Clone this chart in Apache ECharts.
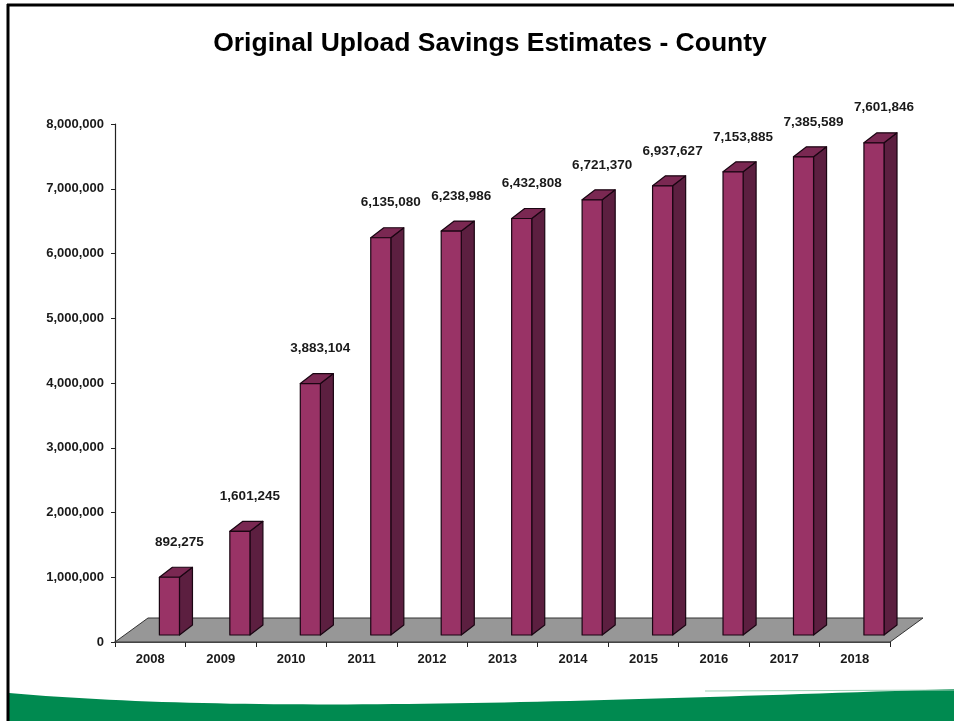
<!DOCTYPE html>
<html>
<head>
<meta charset="utf-8">
<script src="https://cdn.jsdelivr.net/npm/echarts@6/dist/echarts.min.js"></script>
<style>
  html, body { margin: 0; padding: 0; background: #ffffff; }
  #chart { width: 954px; height: 721px; }
</style>
</head>
<body>
<div id="chart"></div>
<script>
// Yearly savings estimates, county level
const years = ['2008', '2009', '2010', '2011', '2012', '2013', '2014', '2015', '2016', '2017', '2018'];
const savings = [892275, 1601245, 3883104, 6135080, 6238986, 6432808, 6721370, 6937627, 7153885, 7385589, 7601846];
const axisMin = 0;
const axisMax = 8000000;
const axisStep = 1000000;

const FONT = '"Liberation Sans", Arial, sans-serif';
const INK = '#1a1a1a';

// 3D bar look
const FACE = '#993366';
const SIDE = '#5c1f40';
const TOP = '#7a2852';
const EDGE = '#1a0512';
const DEPTH_X = 13, DEPTH_Y = 10;   // extrusion of each bar
const LIFT = 7;                     // bars stand slightly back on the floor
const FLOOR_X = 33, FLOOR_Y = 24;   // floor depth

const fmt = v => Number(v).toLocaleString('en-US');

// Outline of the green swoosh at the bottom of the slide (cubic curve sampled into a polygon)
function swooshPoints() {
  const p0 = [9, 693], p1 = [250, 714], p2 = [560, 702], p3 = [954, 689];
  const pts = [];
  for (let k = 0; k <= 60; k++) {
    const t = k / 60, u = 1 - t;
    const a = u * u * u, b = 3 * u * u * t, c = 3 * u * t * t, d = t * t * t;
    pts.push([a * p0[0] + b * p1[0] + c * p2[0] + d * p3[0], a * p0[1] + b * p1[1] + c * p2[1] + d * p3[1]]);
  }
  pts.push([954, 721], [9, 721]);
  return pts;
}

const chart = echarts.init(document.getElementById('chart'), null, { renderer: 'canvas' });

chart.setOption({
  backgroundColor: '#ffffff',
  animation: false,
  grid: { left: 115, right: 64, top: 124, bottom: 79, containLabel: false },
  xAxis: {
    type: 'category',
    data: years,
    boundaryGap: true,
    axisLine: { show: true, lineStyle: { color: '#222', width: 1.5 } },
    axisTick: { show: true, length: 5, lineStyle: { color: '#222', width: 1 } },
    axisLabel: { color: INK, fontFamily: FONT, fontWeight: 'bold', fontSize: 13, margin: 11 },
    splitLine: { show: false }
  },
  yAxis: {
    type: 'value',
    min: axisMin,
    max: axisMax,
    interval: axisStep,
    axisLine: { show: true, lineStyle: { color: '#222', width: 1.2 } },
    axisTick: { show: true, length: 4, lineStyle: { color: '#222', width: 1 } },
    axisLabel: { color: INK, fontFamily: FONT, fontWeight: 'bold', fontSize: 13, margin: 11, formatter: fmt },
    splitLine: { show: false }
  },
  graphic: [
    {
      type: 'polygon', z: 1, silent: true,
      shape: { points: swooshPoints() },
      style: { fill: '#008a50' }
    },
    {
      type: 'line', z: 2, silent: true,
      shape: { x1: 705, y1: 691, x2: 954, y2: 690 },
      style: { stroke: '#9fd0b6', lineWidth: 1 }
    },
    // slide frame
    {
      type: 'line', z: 100, silent: true,
      shape: { x1: 8, y1: 4, x2: 8, y2: 721 },
      style: { stroke: '#000', lineWidth: 3 }
    },
    {
      type: 'line', z: 100, silent: true,
      shape: { x1: 7, y1: 5, x2: 954, y2: 5 },
      style: { stroke: '#000', lineWidth: 3 }
    },
    {
      type: 'text', z: 100, silent: true,
      x: 490, y: 44,
      style: {
        text: 'Original Upload Savings Estimates - County',
        fill: '#000', font: 'bold 26.5px ' + FONT,
        textAlign: 'center', textVerticalAlign: 'middle'
      }
    }
  ],
  series: [
    {
      // gray floor under the bars
      type: 'custom',
      silent: true,
      z: 1,
      data: [[0, 0]],
      renderItem(params, api) {
        const cs = params.coordSys;
        const zeroY = api.coord([0, 0])[1];
        const xl = cs.x, xr = cs.x + cs.width;
        return {
          type: 'polygon',
          shape: { points: [[xl, zeroY], [xr, zeroY], [xr + FLOOR_X, zeroY - FLOOR_Y], [xl + FLOOR_X, zeroY - FLOOR_Y]] },
          style: { fill: '#979797', stroke: '#333', lineWidth: 1 }
        };
      }
    },
    {
      type: 'custom',
      z: 2,
      data: savings.map((v, i) => [i, v]),
      encode: { x: 0, y: 1 },
      renderItem(params, api) {
        const i = api.value(0);
        const v = api.value(1);
        const base = api.coord([i, 0]);
        const top = api.coord([i, v]);
        const band = api.size([1, 0])[0];
        const w = band * 0.285;
        const x0 = base[0] + band * 0.13;
        const x1 = x0 + w;
        const yb = base[1] - LIFT;
        const yt = top[1] - LIFT;
        const st = { stroke: EDGE, lineWidth: 1.2, lineJoin: 'round' };
        return {
          type: 'group',
          children: [
            {
              type: 'polygon',
              shape: { points: [[x1, yb], [x1 + DEPTH_X, yb - DEPTH_Y], [x1 + DEPTH_X, yt - DEPTH_Y], [x1, yt]] },
              style: Object.assign({ fill: SIDE }, st)
            },
            {
              type: 'polygon',
              shape: { points: [[x0, yt], [x0 + DEPTH_X, yt - DEPTH_Y], [x1 + DEPTH_X, yt - DEPTH_Y], [x1, yt]] },
              style: Object.assign({ fill: TOP }, st)
            },
            {
              type: 'rect',
              shape: { x: x0, y: yt, width: w, height: yb - yt },
              style: Object.assign({ fill: FACE }, st)
            },
            {
              type: 'text',
              x: (x0 + x1) / 2 + 10,
              y: yt - 35,
              style: {
                text: fmt(v), fill: INK, font: 'bold 13.5px ' + FONT,
                textAlign: 'center', textVerticalAlign: 'middle'
              }
            }
          ]
        };
      }
    }
  ]
});
</script>
</body>
</html>
